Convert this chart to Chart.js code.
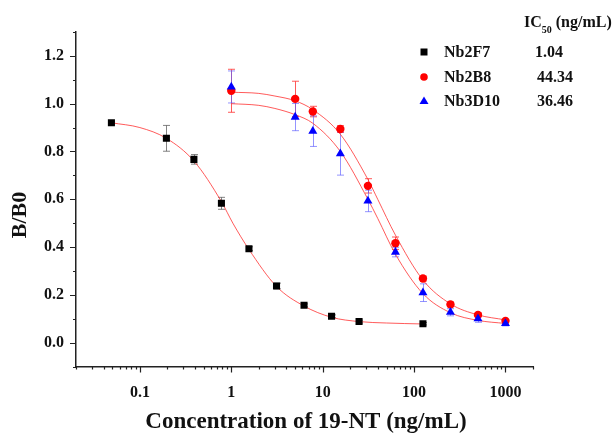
<!DOCTYPE html>
<html>
<head>
<meta charset="utf-8">
<script src="https://cdn.jsdelivr.net/npm/chart.js@4.4.1/dist/chart.umd.min.js"></script>
<style>
  html, body { margin: 0; padding: 0; background: #fff; }
  #wrap { position: relative; width: 616px; height: 436px; }
</style>
</head>
<body>
<div id="wrap"><canvas id="chart_ic50" width="616" height="436"></canvas></div>
<script>
// measured points (x = concentration in ng/mL, y = B/B0, err = +/- bar)
const concF7 = [0.0488, 0.195, 0.39, 0.78, 1.56, 3.125, 6.25, 12.5, 25, 125];
const valF7 = [0.920, 0.855, 0.767, 0.583, 0.393, 0.237, 0.156, 0.110, 0.088, 0.079];
const errF7 = [0.006, 0.054, 0.020, 0.025, 0.008, 0.012, 0.006, 0.006, 0.006, 0.005];

const concNb = [1, 5, 7.8, 15.6, 31.25, 62.5, 125, 250, 500, 1000];
const valB8 = [1.054, 1.020, 0.967, 0.894, 0.656, 0.416, 0.268, 0.160, 0.116, 0.091];
const errB8 = [0.090, 0.074, 0.022, 0.014, 0.030, 0.026, 0.010, 0.010, 0.008, 0.006];
const valD10 = [1.070, 0.944, 0.885, 0.791, 0.593, 0.379, 0.209, 0.127, 0.100, 0.080];
const errD10 = [0.067, 0.057, 0.064, 0.090, 0.045, 0.020, 0.037, 0.015, 0.015, 0.010];

// fitted curves
const fitF7X = [0.0488, 0.1, 0.195, 0.39, 0.78, 1.04, 1.56, 3.125, 6.25, 12.5, 25, 50, 125];
const fitF7Y = [0.920, 0.900, 0.855, 0.760, 0.590, 0.500, 0.390, 0.235, 0.153, 0.106, 0.088, 0.082, 0.078];
const fitNbX = [1, 2, 3, 5, 7.8, 15.6, 31.25, 40, 62.5, 125, 250, 500, 1000];
const fitB8Y = [1.048, 1.043, 1.032, 1.012, 0.975, 0.872, 0.683, 0.600, 0.450, 0.262, 0.162, 0.116, 0.095];
const fitD10Y = [1.000, 0.993, 0.980, 0.954, 0.918, 0.800, 0.600, 0.520, 0.370, 0.205, 0.125, 0.093, 0.080];

const seriesNames = ['Nb2F7', 'Nb2B8', 'Nb3D10'];
const ic50Labels = ['1.04', '44.34', '36.46'];
const xTickValues = [0.1, 1, 10, 100, 1000];
const yTickValues = [0, 0.2, 0.4, 0.6, 0.8, 1.0, 1.2];

const serif = "'Liberation Serif', 'Times New Roman', serif";
const fitColor = 'rgba(255, 50, 50, 0.8)';
const pts = (xs, ys) => xs.map((x, i) => ({ x, y: ys[i] }));

const errorSets = [
  { xs: concF7, ys: valF7, es: errF7, color: 'rgba(90, 90, 90, 0.75)' },
  { xs: concNb, ys: valB8, es: errB8, color: 'rgba(255, 60, 60, 0.85)' },
  { xs: concNb, ys: valD10, es: errD10, color: 'rgba(90, 90, 255, 0.65)' }
];

const errorBarPlugin = {
  id: 'errorBars',
  beforeDatasetsDraw: chart => {
    const ctx = chart.ctx;
    const xs = chart.scales.x, ys = chart.scales.y;
    ctx.save();
    ctx.lineWidth = 1;
    for (const set of errorSets) {
      ctx.strokeStyle = set.color;
      set.xs.forEach((c, i) => {
        const px = Math.round(xs.getPixelForValue(c)) + 0.5;
        const top = ys.getPixelForValue(set.ys[i] + set.es[i]);
        const bot = ys.getPixelForValue(set.ys[i] - set.es[i]);
        ctx.beginPath();
        ctx.moveTo(px, top); ctx.lineTo(px, bot);
        ctx.moveTo(px - 3.5, top); ctx.lineTo(px + 3.5, top);
        ctx.moveTo(px - 3.5, bot); ctx.lineTo(px + 3.5, bot);
        ctx.stroke();
      });
    }
    ctx.restore();
  }
};

const axisTicksPlugin = {
  id: 'axisTicks',
  afterDraw: chart => {
    const ctx = chart.ctx;
    const xs = chart.scales.x, ys = chart.scales.y;
    ctx.save();
    ctx.strokeStyle = '#222';
    ctx.lineWidth = 1.2;
    ctx.beginPath();
    for (let e = -2; e <= 3; e++) {
      for (let k = 1; k <= 9; k++) {
        const v = k * Math.pow(10, e);
        if (v < xs.min * 0.999 || v > xs.max * 1.001) continue;
        const px = Math.round(xs.getPixelForValue(v)) + 0.5;
        ctx.moveTo(px, xs.top);
        ctx.lineTo(px, xs.top + (k === 1 ? 6 : 3));
      }
    }
    for (let i = -1; i <= 13; i++) {
      const py = Math.round(ys.getPixelForValue(i / 10)) + 0.5;
      const major = i >= 0 && i <= 12 && i % 2 === 0;
      ctx.moveTo(ys.right, py);
      ctx.lineTo(ys.right - (major ? 6 : 3), py);
    }
    ctx.stroke();
    ctx.restore();
  }
};

const titlesPlugin = {
  id: 'axisTitles',
  afterDraw: chart => {
    const ctx = chart.ctx;
    ctx.save();
    ctx.fillStyle = '#111';
    ctx.textAlign = 'center';
    ctx.textBaseline = 'middle';
    ctx.font = 'bold 23px ' + serif;
    ctx.fillText('Concentration of 19-NT (ng/mL)', 306, 422);
    ctx.translate(20, 215);
    ctx.rotate(-Math.PI / 2);
    ctx.font = 'bold 22px ' + serif;
    ctx.fillText('B/B0', 0, 0);
    ctx.restore();
  }
};

const legendPlugin = {
  id: 'ic50Legend',
  afterDraw: chart => {
    const ctx = chart.ctx;
    ctx.save();
    ctx.fillStyle = '#111';
    ctx.textBaseline = 'alphabetic';
    ctx.textAlign = 'left';
    ctx.font = 'bold 16px ' + serif;
    ctx.fillText('IC', 524, 27);
    let x = 524 + ctx.measureText('IC').width;
    ctx.font = 'bold 10px ' + serif;
    ctx.fillText('50', x, 33);
    x += ctx.measureText('50').width;
    ctx.font = 'bold 16px ' + serif;
    ctx.fillText(' (ng/mL)', x, 27);

    const rows = [52, 77, 101];
    const colors = ['#000', '#ff0000', '#0000ff'];
    rows.forEach((ry, i) => {
      ctx.fillStyle = colors[i];
      ctx.beginPath();
      if (i === 0) {
        ctx.rect(420.5, ry - 3.5, 7, 7);
      } else if (i === 1) {
        ctx.arc(424, ry, 3.8, 0, Math.PI * 2);
      } else {
        ctx.moveTo(424, ry - 4.5);
        ctx.lineTo(428.5, ry + 3);
        ctx.lineTo(419.5, ry + 3);
        ctx.closePath();
      }
      ctx.fill();
      ctx.fillStyle = '#111';
      ctx.textBaseline = 'middle';
      ctx.font = 'bold 16px ' + serif;
      ctx.fillText(seriesNames[i], 444, ry + 1);
      ctx.fillText(ic50Labels[i], i === 0 ? 535 : 537, ry + 1);
    });
    ctx.restore();
  }
};

const tickFont = { family: serif, weight: 'bold', size: 16 };

new Chart(document.getElementById('chart_ic50'), {
  type: 'scatter',
  data: {
    datasets: [
      {
        label: seriesNames[2],
        data: pts(concNb, valD10),
        pointStyle: 'triangle',
        pointRadius: 5.2,
        backgroundColor: '#0000ff',
        borderColor: '#0000ff',
        borderWidth: 0,
        order: 0
      },
      {
        label: seriesNames[1],
        data: pts(concNb, valB8),
        pointStyle: 'circle',
        pointRadius: 4.2,
        backgroundColor: '#ff0000',
        borderColor: '#ff0000',
        borderWidth: 0,
        order: 1
      },
      {
        label: seriesNames[0],
        data: pts(concF7, valF7),
        pointStyle: 'rect',
        pointRadius: 5,
        backgroundColor: '#000',
        borderColor: '#000',
        borderWidth: 0,
        order: 2
      },
      {
        label: 'fit ' + seriesNames[0],
        data: pts(fitF7X, fitF7Y),
        showLine: true,
        pointRadius: 0,
        borderColor: fitColor,
        borderWidth: 1,
        cubicInterpolationMode: 'monotone',
        order: 5
      },
      {
        label: 'fit ' + seriesNames[1],
        data: pts(fitNbX, fitB8Y),
        showLine: true,
        pointRadius: 0,
        borderColor: fitColor,
        borderWidth: 1,
        cubicInterpolationMode: 'monotone',
        order: 6
      },
      {
        label: 'fit ' + seriesNames[2],
        data: pts(fitNbX, fitD10Y),
        showLine: true,
        pointRadius: 0,
        borderColor: fitColor,
        borderWidth: 1,
        cubicInterpolationMode: 'monotone',
        order: 7
      }
    ]
  },
  options: {
    responsive: false,
    animation: false,
    layout: { padding: { left: 0, top: 32, right: 83, bottom: 0 } },
    scales: {
      x: {
        type: 'logarithmic',
        min: 0.02,
        max: 2000,
        afterFit: s => { s.height = 69.5; },
        afterBuildTicks: s => { s.ticks = xTickValues.map(v => ({ value: v })); },
        ticks: {
          callback: v => String(v),
          color: '#111',
          padding: 17,
          maxRotation: 0,
          autoSkip: false,
          font: tickFont
        },
        grid: { drawOnChartArea: false, drawTicks: false },
        border: { display: true, color: '#222', width: 1.5 }
      },
      y: {
        min: -0.1,
        max: 1.3,
        afterFit: s => { s.width = 76; },
        afterBuildTicks: s => { s.ticks = yTickValues.map(v => ({ value: v })); },
        ticks: {
          callback: v => v.toFixed(1),
          color: '#111',
          padding: 12,
          autoSkip: false,
          font: tickFont
        },
        grid: { drawOnChartArea: false, drawTicks: false },
        border: { display: true, color: '#222', width: 1.5 }
      }
    },
    plugins: {
      legend: { display: false },
      tooltip: { enabled: false }
    }
  },
  plugins: [errorBarPlugin, axisTicksPlugin, titlesPlugin, legendPlugin]
});
</script>
</body>
</html>
